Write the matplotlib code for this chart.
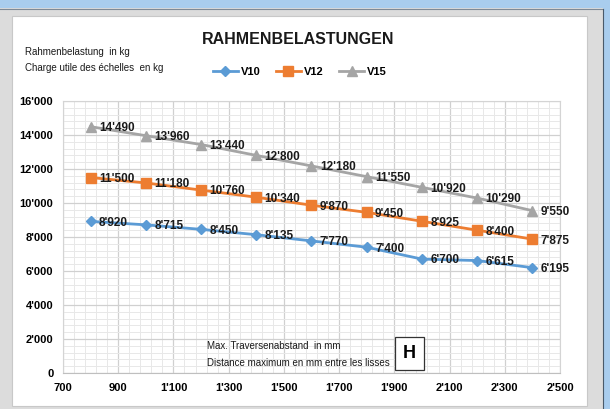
"""Rahmenbelastungen chart: load per frame vs. max crossbar spacing."""

import matplotlib.pyplot as plt
from matplotlib.patches import Rectangle
from matplotlib.ticker import FuncFormatter, MultipleLocator

plt.rcParams["font.family"] = ["Liberation Sans Narrow", "Liberation Sans", "DejaVu Sans"]

spacing_mm = [800, 1000, 1200, 1400, 1600, 1800, 2000, 2200, 2400]
v10 = [8920, 8715, 8450, 8135, 7770, 7400, 6700, 6615, 6195]
v12 = [11500, 11180, 10760, 10340, 9870, 9450, 8925, 8400, 7875]
v15 = [14490, 13960, 13440, 12800, 12180, 11550, 10920, 10290, 9550]
series_names = ["V10", "V12", "V15"]


def swiss(v, pos=None):
    return f"{v:,.0f}".replace(",", "'")


W, H = 610, 409
fig = plt.figure(figsize=(W / 100, H / 100), dpi=100)
fig.patch.set_facecolor("#dcdcdc")

# window frame: blue strips, gray border, white chart area (behind the axes)
frame = [
    Rectangle((0, 1 - 8 / H), 1, 8 / H, facecolor="#a9cdee", edgecolor="none"),
    Rectangle((603 / W, 0), 7 / W, 1, facecolor="#a9cdee", edgecolor="none"),
    Rectangle((12 / W, 3 / H), (587 - 12) / W, (393 - 3) / H,
              facecolor="white", edgecolor="#c8c8c8", lw=0.8),
]
for p in frame:
    p.set_transform(fig.transFigure)
    p.set_zorder(-5)
    fig.patches.append(p)
fig.lines.append(plt.Line2D([0, 603 / W], [1 - 8.5 / H] * 2, transform=fig.transFigure,
                            color="#7f8a96", lw=0.8, zorder=-4))
fig.lines.append(plt.Line2D([602.5 / W] * 2, [0, 1 - 8.5 / H], transform=fig.transFigure,
                            color="#4a5a6a", lw=0.8, zorder=-4))

ax = fig.add_axes([63 / W, (H - 373) / H, (560 - 63) / W, (373 - 101) / H])
ax.set_xlim(700, 2500)
ax.set_ylim(0, 16000)
ax.xaxis.set_major_locator(MultipleLocator(200, offset=100))
ax.xaxis.set_minor_locator(MultipleLocator(40, offset=20))
ax.yaxis.set_major_locator(MultipleLocator(2000))
ax.yaxis.set_minor_locator(MultipleLocator(400))
ax.xaxis.set_major_formatter(FuncFormatter(swiss))
ax.yaxis.set_major_formatter(FuncFormatter(swiss))
ax.grid(which="major", color="#d0d0d0", lw=0.9)
ax.grid(which="minor", color="#e8e8e8", lw=0.7)
ax.set_axisbelow(True)
for side in ["left", "right", "top"]:
    ax.spines[side].set_color("#d4d4d4")
ax.spines["bottom"].set_color("#bfbfbf")
ax.tick_params(which="both", length=0, labelsize=8, pad=7)
for lab in ax.get_xticklabels() + ax.get_yticklabels():
    lab.set_fontweight("bold")

colors = ["#5b9bd5", "#ed7d31", "#a5a5a5"]
markers = ["D", "s", "^"]
msizes = [5, 7, 7]
for vals, name, c, m, ms in zip([v10, v12, v15], series_names, colors, markers, msizes):
    ax.plot(spacing_mm, vals, color=c, lw=2, marker=m, ms=ms, label=name, zorder=3)
    for x, y in zip(spacing_mm, vals):
        ax.annotate(swiss(y), (x, y), xytext=(6, -1), textcoords="offset points",
                    ha="left", va="center", fontsize=8.5, fontweight="bold",
                    color="#1a1a1a", zorder=4)

fig.text(298 / W, 1 - 40 / H, "RAHMENBELASTUNGEN", ha="center", va="center",
         fontsize=11.5, fontweight="bold", color="#1a1a1a")
fig.text(25 / W, 1 - 52 / H, "Rahmenbelastung  in kg", ha="left", va="center",
         fontsize=7, color="#1a1a1a")
fig.text(25 / W, 1 - 68 / H, "Charge utile des échelles  en kg", ha="left", va="center",
         fontsize=7, color="#1a1a1a")

fig.legend(loc="center", bbox_to_anchor=(300 / W, 1 - 72 / H), ncol=3, frameon=False,
           prop={"weight": "bold", "size": 8}, handlelength=2.2,
           columnspacing=1.4, handletextpad=0.3)

ax.text(1220, 1600, "Max. Traversenabstand  in mm", fontsize=7, va="center",
        color="#1a1a1a")
ax.text(1220, 600, "Distance maximum en mm entre les lisses", fontsize=7, va="center",
        color="#1a1a1a")
ax.text(1955, 1150, "H", fontsize=13, fontweight="bold", ha="center", va="center",
        bbox=dict(boxstyle="square,pad=0.45", facecolor="white", edgecolor="#333333",
                  lw=0.9))

fig.savefig("out.png", dpi=100)
